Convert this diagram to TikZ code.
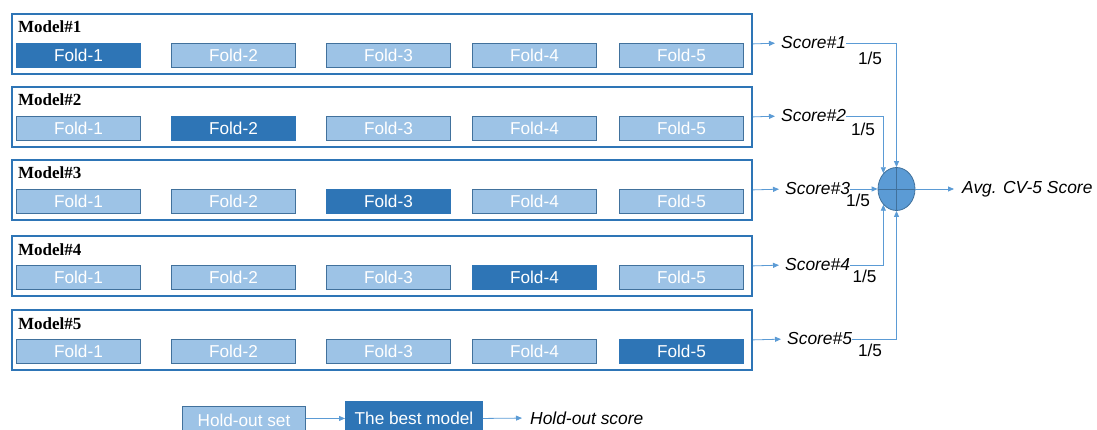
\documentclass[tikz,border=0pt]{standalone}
\usepackage{fontspec}
\setmainfont{Liberation Sans}
\newfontfamily\modelfont{Liberation Serif}
\usetikzlibrary{arrows.meta,shapes.geometric}
\definecolor{folddark}{HTML}{2E75B6}
\definecolor{foldlight}{HTML}{9DC3E6}
\definecolor{foldedge}{HTML}{41719C}
\definecolor{framec}{HTML}{2E75B6}
\definecolor{arrowc}{HTML}{5B9BD5}
\definecolor{sumfill}{HTML}{5B9BD5}

\begin{document}
\begin{tikzpicture}[x=1pt,y=-1pt,
  txt/.style={font=\fontsize{17.2}{20}\selectfont},
  foldbox/.style={line width=0.9pt, text=white, minimum width=124pt,
    minimum height=24pt, inner sep=0pt, txt, anchor=north west},
  framebox/.style={draw=framec, line width=1.8pt, minimum width=740pt,
    minimum height=60pt, inner sep=0pt, anchor=north west},
  modelname/.style={font=\modelfont\bfseries\fontsize{17}{20}\selectfont,
    inner sep=0pt, anchor=base west},
  scorelabel/.style={font=\fontsize{17.4}{20}\selectfont\itshape,
    inner sep=0pt, anchor=west},
  weight/.style={txt, inner sep=0pt},
  flow/.style={draw=arrowc, line width=0.8pt,
    -{Triangle[length=6pt,width=5pt]}},
]
\useasboundingbox (0,0) rectangle (1097,430);

% five cross-validation models, each holding out one fold
\foreach \i/\T/\sx in {1/13/781, 2/86/781, 3/159/785, 4/235/785, 5/309/787}{
  \node[framebox] (m\i) at (11,\T) {};
  \node[modelname] (n\i) at (18,\T+20) {Model\#\i};
  \foreach \j/\fx in {1/16, 2/171, 3/326, 4/472, 5/619}{
    \ifnum\j=\i
      \def\fc{folddark}\def\dc{folddark}
    \else
      \def\fc{foldlight}\def\dc{foldedge}
    \fi
    \node[foldbox, fill=\fc, draw=\dc] (f\i\j) at (\fx,\T+30) {Fold-\j};
  }
  \node[scorelabel] (s\i) at (\sx,\T+30) {Score\#\i};
  \draw[flow, shorten >=6pt] (m\i.east) -- (s\i.west);
}

% averaging junction
\node[ellipse, minimum width=37pt, minimum height=43pt, inner sep=0pt,
  fill=sumfill, draw=foldedge, line width=0.8pt] (c) at (896.5,189) {};
\draw[foldedge, line width=0.8pt] (c.north) -- (c.south) (c.west) -- (c.east);

\draw[flow] (s1.east) -| (c.north);
\draw[flow] (s2.east) -| (c.130);
\draw[flow] (s3.east) -- (s3.east -| c.west);
\draw[flow] (s4.east) -| (c.230);
\draw[flow] (s5.east) -| (c.south);

\node[weight] (w1) at (870,58) {1/5};
\node[weight] (w2) at (863,129) {1/5};
\node[weight] (w3) at (858,200) {1/5};
\node[weight] (w4) at (864.5,276) {1/5};
\node[weight] (w5) at (870,350) {1/5};

\node[scorelabel] (avg) at (962,189) {Avg. CV-5 Score};
\draw[flow, shorten >=8pt] (c.east) -- (avg.west);

% final evaluation on the hold-out set
\node[foldbox, fill=foldlight, draw=foldedge, minimum width=123pt,
  minimum height=28pt] (hs) at (182,406) {Hold-out set};
\node[foldbox, fill=folddark, draw=folddark, minimum width=137pt,
  minimum height=34pt] (bm) at (345,401) {The best model};
\node[scorelabel] (hsc) at (530,418) {Hold-out score};
\draw[flow] (hs.east |- bm.west) -- (bm.west);
\draw[flow, shorten >=8pt] (bm.east) -- (hsc.west);
\end{tikzpicture}
\end{document}
